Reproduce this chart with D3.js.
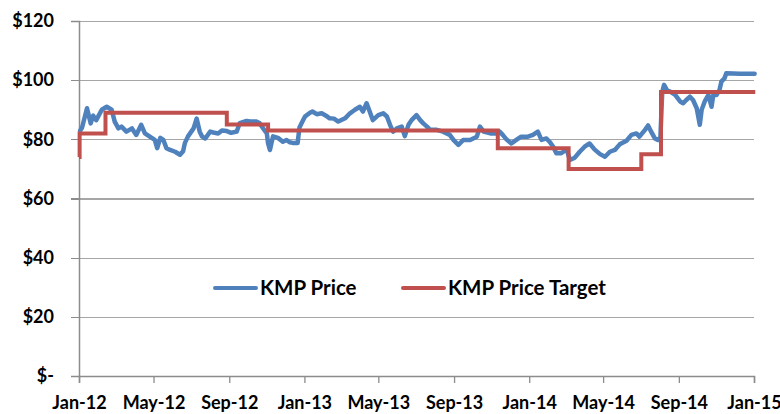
<!DOCTYPE html>
<html>
<head>
<meta charset="utf-8">
<script src="https://cdn.jsdelivr.net/npm/d3@7"></script>
<style>
  html, body { margin: 0; padding: 0; background: #fff; }
  svg { display: block; }
  text { font-family: Lato, "Open Sans", sans-serif; font-weight: bold; fill: #000; }
</style>
</head>
<body>
<svg id="chart" width="780" height="414"></svg>
<script>
// ---- Data ----
const priceDates = [
  "2012-01-03","2012-01-06","2012-01-14","2012-01-20","2012-01-24","2012-01-29","2012-02-07","2012-02-15","2012-02-23","2012-02-28",
  "2012-03-05","2012-03-10","2012-03-18","2012-03-27","2012-04-03","2012-04-11","2012-04-17","2012-04-25","2012-05-03","2012-05-07",
  "2012-05-12","2012-05-17","2012-05-22","2012-05-28","2012-06-05","2012-06-13","2012-06-18","2012-06-21","2012-06-26","2012-07-05",
  "2012-07-10","2012-07-15","2012-07-19","2012-07-24","2012-08-01","2012-08-06","2012-08-14","2012-08-20","2012-08-28","2012-09-04",
  "2012-09-13","2012-09-18","2012-09-29","2012-10-05","2012-10-15","2012-10-20","2012-10-26","2012-11-01","2012-11-03","2012-11-06",
  "2012-11-11","2012-11-19","2012-11-27","2012-12-03","2012-12-08","2012-12-13","2012-12-21","2012-12-24","2012-12-30","2013-01-02",
  "2013-01-10","2013-01-14","2013-01-21","2013-01-29","2013-02-05","2013-02-11","2013-02-18","2013-02-25","2013-03-08","2013-03-16",
  "2013-03-24","2013-04-01","2013-04-06","2013-04-12","2013-04-17","2013-04-22","2013-05-01","2013-05-09","2013-05-15","2013-05-20",
  "2013-05-25","2013-05-31","2013-06-08","2013-06-13","2013-06-19","2013-06-24","2013-07-02","2013-07-08","2013-07-13","2013-07-19",
  "2013-07-24","2013-08-04","2013-08-14","2013-08-25","2013-08-31","2013-09-08","2013-09-16","2013-09-27","2013-10-08","2013-10-13",
  "2013-10-19","2013-10-30","2013-11-09","2013-11-14","2013-11-19","2013-11-25","2013-12-03","2013-12-11","2013-12-19","2013-12-30",
  "2014-01-07","2014-01-15","2014-01-21","2014-01-29","2014-02-03","2014-02-09","2014-02-14","2014-02-22","2014-03-03","2014-03-08",
  "2014-03-16","2014-03-24","2014-04-01","2014-04-09","2014-04-17","2014-04-26","2014-05-04","2014-05-12","2014-05-20","2014-05-28",
  "2014-06-08","2014-06-16","2014-06-24","2014-06-29","2014-07-08","2014-07-13","2014-07-18","2014-07-24","2014-07-29","2014-08-02",
  "2014-08-05","2014-08-08","2014-08-13","2014-08-18","2014-08-26","2014-09-03","2014-09-08","2014-09-13","2014-09-19","2014-09-24",
  "2014-09-30","2014-10-05","2014-10-08","2014-10-13","2014-10-19","2014-10-24","2014-10-27","2014-11-01","2014-11-06","2014-11-09",
  "2014-11-14","2014-11-17","2014-12-09","2015-01-02"
];
const priceValues = [
  83, 84, 90.5, 85.4, 88, 86.5, 90, 91, 90, 86,
  83.7, 84.3, 82.6, 83.7, 81.5, 84.9, 82, 80.9, 79.8, 77,
  80.5, 79.8, 77, 76.4, 75.8, 74.8, 76, 78.8, 81, 83.7,
  87, 82.6, 80.9, 80.3, 82.6, 82.3, 82, 83, 82.8, 82.2,
  82.6, 85.5, 86.2, 86, 86, 85.5, 83.7, 82, 78.6, 76.4,
  81, 80.5, 79.2, 79.8, 79, 78.8, 78.8, 84, 86.5, 87.7,
  89, 89.4, 88.5, 88.8, 88, 87.1, 87, 86, 87.1, 88.8,
  90, 91, 89.4, 92.2, 89.4, 86.5, 88.2, 88.8, 87.7, 84.9,
  82.6, 83.7, 84.3, 81.1, 84.9, 86.5, 88.2, 86.5, 85.4, 84.3,
  83.2, 83.2, 82.6, 81.5, 79.8, 78.1, 79.8, 79.8, 80.9, 84.3,
  82.6, 82, 82, 82.6, 81.5, 80, 78.6, 79.8, 80.9, 80.9,
  81.5, 82.6, 79.8, 80.3, 79.2, 77.5, 75.3, 75.3, 76.6, 73,
  73.8, 75.8, 77.5, 78.6, 76.6, 75, 74.1, 75.8, 76.4, 78.3,
  79.5, 81.5, 82, 80.9, 83.2, 84.7, 82.6, 80.3, 79.8, 80.5,
  96, 98.4, 96.5, 96.1, 95, 92.8, 92.2, 93.3, 94.4, 93.3,
  90.5, 84.9, 90, 92.8, 95, 91, 95, 95, 96.7, 99.5,
  100.6, 102.3, 102.2, 102.2
];
const targetDates  = ["2012-01-01","2012-01-02","2012-02-13","2012-08-28","2012-11-03","2013-11-11","2014-03-06","2014-07-02","2014-08-03","2015-01-03"];
const targetValues = [74, 82, 89, 85, 83, 77, 70, 75, 96, 96];
const yTickValues = [0, 20, 40, 60, 80, 100, 120];
const yTickLabels = ["$-", "$20", "$40", "$60", "$80", "$100", "$120"];
const xTickDates  = ["2012-01-01","2012-05-01","2012-09-01","2013-01-01","2013-05-01","2013-09-01","2014-01-01","2014-05-01","2014-09-01","2015-01-01"];
const xTickLabels = ["Jan-12","May-12","Sep-12","Jan-13","May-13","Sep-13","Jan-14","May-14","Sep-14","Jan-15"];
const seriesNames = ["KMP Price", "KMP Price Target"];
const seriesColors = ["#4F81BD", "#C0504D"];

// ---- Chart ----
const parse = d3.utcParse("%Y-%m-%d");
const svg = d3.select("#chart");
const plot = { left: 79, right: 754, top: 21, bottom: 376 };

const x = d3.scaleUtc()
  .domain([parse("2012-01-01"), parse("2015-01-01")])
  .range([plot.left, plot.right]);
const y = d3.scaleLinear().domain([0, 120]).range([plot.bottom, plot.top]);

// gridlines
const yAxis = d3.axisLeft(y)
  .tickValues(yTickValues)
  .tickSize(-(plot.right - plot.left))
  .tickFormat("");
const gy = svg.append("g").attr("transform", `translate(${plot.left},0)`).call(yAxis);
gy.select(".domain").remove();
gy.selectAll(".tick line").attr("stroke", "#a6a6a6").attr("stroke-width", 1.3).attr("shape-rendering", "crispEdges");

// outer y ticks + labels
const yAxis2 = d3.axisLeft(y)
  .tickValues(yTickValues)
  .tickSize(8)
  .tickPadding(17)
  .tickFormat(d => yTickLabels[yTickValues.indexOf(d)]);
const gy2 = svg.append("g").attr("transform", `translate(${plot.left},0)`).call(yAxis2);
gy2.select(".domain").attr("stroke", "#8c8c8c").attr("stroke-width", 1.5);
gy2.selectAll(".tick line").attr("stroke", "#8c8c8c").attr("stroke-width", 1.3).attr("shape-rendering", "crispEdges");
gy2.selectAll(".tick text")
  .style("font-family", "Lato, 'Open Sans', sans-serif")
  .style("font-weight", "bold")
  .style("font-size", "18px")
  .attr("fill", "#000");
gy2.attr("font-family", null).attr("font-size", null);

// x axis
const xAxis = d3.axisBottom(x)
  .tickValues(xTickDates.map(parse))
  .tickSize(7)
  .tickPadding(13)
  .tickFormat((d, i) => xTickLabels[i]);
const gx = svg.append("g").attr("transform", `translate(0,${plot.bottom})`).call(xAxis);
gx.select(".domain").attr("stroke", "#8c8c8c").attr("stroke-width", 1.5);
gx.selectAll(".tick line").attr("stroke", "#8c8c8c").attr("stroke-width", 1.3);
gx.selectAll(".tick text")
  .style("font-family", "Lato, 'Open Sans', sans-serif")
  .style("font-weight", "bold")
  .style("font-size", "18px")
  .attr("fill", "#000");
gx.attr("font-family", null).attr("font-size", null);

// series
const priceData = priceDates.map((d, i) => ({ date: parse(d), value: priceValues[i] }));
const targetData = targetDates.map((d, i) => ({ date: parse(d), value: targetValues[i] }));

const lineLinear = d3.line().x(d => x(d.date)).y(d => y(d.value)).curve(d3.curveLinear);
const lineStep = d3.line().x(d => x(d.date)).y(d => y(d.value)).curve(d3.curveStepAfter);

svg.append("path").datum(priceData)
  .attr("d", lineLinear)
  .attr("fill", "none")
  .attr("stroke", seriesColors[0])
  .attr("stroke-width", 4.5)
  .attr("stroke-linejoin", "round")
  .attr("stroke-linecap", "round");

svg.append("path").datum(targetData)
  .attr("d", lineStep)
  .attr("fill", "none")
  .attr("stroke", seriesColors[1])
  .attr("stroke-width", 4)
  .attr("stroke-linejoin", "miter")
  .attr("stroke-linecap", "butt");

// legend
const legendItems = [
  { name: seriesNames[0], color: seriesColors[0], x0: 215 },
  { name: seriesNames[1], color: seriesColors[1], x0: 403 }
];
const lg = svg.append("g");
legendItems.forEach(it => {
  lg.append("line")
    .attr("x1", it.x0).attr("x2", it.x0 + 41)
    .attr("y1", 288).attr("y2", 288)
    .attr("stroke", it.color).attr("stroke-width", 4).attr("stroke-linecap", "round");
  lg.append("text")
    .attr("x", it.x0 + 45).attr("y", 288)
    .attr("dy", "0.36em")
    .style("font-size", "20.5px")
    .text(it.name);
});
</script>
</body>
</html>
